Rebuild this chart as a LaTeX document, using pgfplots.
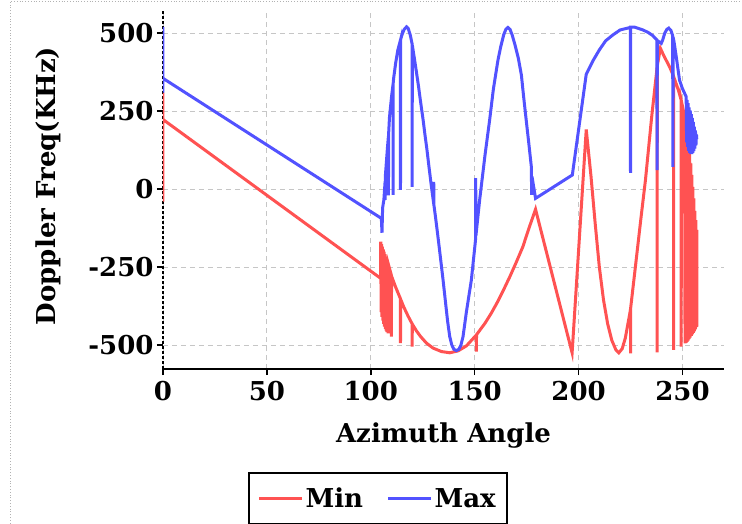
\documentclass[border=0pt]{standalone}
\usepackage{fontspec}
\setmainfont{DejaVu Serif}
\usepackage{pgfplots}
\pgfplotsset{compat=1.18}
\definecolor{cmin}{RGB}{255,82,82}
\definecolor{cmax}{RGB}{82,82,255}
\newcommand{\bigf}{\fontsize{26}{31}\selectfont\bfseries}
\begin{document}
\begin{tikzpicture}
\begin{axis}[
  scale only axis, width=561pt, height=359pt,
  xmin=0, xmax=270, ymin=-577, ymax=574,
  axis x line=bottom, axis y line=left, axis line style={-},
  x axis line style={line width=1.8pt, black},
  y axis line style={line width=1.5pt, black, dash pattern=on 3pt off 2pt},
  xtick={0,50,100,150,200,250}, xticklabels={0,50,100,150,200,250},
  ytick={-500,-250,0,250,500}, yticklabels={-500,-250,0,250,500},
  tick style={black, line width=1.5pt}, major tick length=6pt, tick align=outside,
  grid=major, grid style={gray!45, line width=0.9pt, dash pattern=on 5pt off 4pt},
  tick label style={font=\bigf},
  xticklabel style={yshift=-3pt},
  xlabel={Azimuth Angle}, ylabel={Doppler Freq(KHz)},
  label style={font=\bigf},
  xlabel style={at={(rel axis cs:0.5,0)}, anchor=base, yshift=-73pt},
  ylabel style={at={(rel axis cs:-0.205,0.51)}, anchor=center},
  legend style={at={(0.383,0)}, anchor=north, yshift=-103pt, draw=black, line width=2pt,
    inner xsep=9pt, inner ysep=13pt,
    font=\bigf, legend columns=2, /tikz/every even column/.append style={column sep=22pt}},
  legend image code/.code={\draw[#1, line width=2.5pt] (0pt,0pt) -- (43pt,0pt);},
]
\addplot[cmin, line width=3pt] coordinates {
(0,-40) (0,309) (0,223) (104.7,-286) (104.8,-169)
(105.0,-395) (105.2,-177) (105.4,-410) (105.6,-185) (105.8,-422) (106.0,-193) (106.2,-432)
(106.4,-201) (106.6,-441) (106.8,-209) (107.0,-448) (107.2,-217) (107.4,-454) (107.6,-224)
(107.8,-459) (108.0,-232) (108.3,-463) (108.5,-242) (109.9,-276) (109.9,-473) (110,-279)
(110.7,-292) (112,-315) (114.3,-352) (114.3,-494) (114.4,-354) (116,-380) (118,-408)
(119.9,-432) (119.9,-505) (120,-433) (122,-455) (124,-473) (126.8,-494) (130,-510)
(134,-521) (138,-525) (142,-519) (146,-503) (150.8,-468) (150.8,-521) (150.9,-467)
(155,-430) (158,-398) (161,-362) (164,-322) (167,-280) (170,-235) (173.2,-185) (176,-128) (179.3,-65)
(196.9,-525) (203.7,191) (206,40) (208,-110) (210,-250) (212,-355) (214,-432) (216,-485)
(218,-516) (219.4,-525) (221,-512) (222.5,-478) (224.5,-405) (225,-385) (225,-527)
(225.1,-380) (227,-270) (230,-95) (232.2,29) (235.2,232) (237.8,390) (237.8,-524)
(237.9,396) (239.4,451) (241,428) (243.8,392) (245.7,362) (245.7,-516) (245.8,360)
(248,318) (249.4,285) (249.4,-505) (249.5,282) (250.5,250) (251,240)
(251.25,-495) (251.5,225) (251.75,-493) (252.0,205) (252.25,-490) (252.5,189) (252.75,-486)
(253.0,155) (253.25,-481) (253.5,120) (253.75,-476) (254.0,82) (254.25,-471) (254.5,45)
(254.75,-466) (255.0,7) (255.25,-461) (255.5,-30) (255.75,-456) (256.0,-70) (256.25,-450)
(256.5,-100) (256.75,-443) (257.0,-131) (257.0,-441)
};
\addlegendentry{Min}
\addplot[cmax, line width=3pt] coordinates {
(0,309) (0,520) (0,355)
(105.1,-94) (105.4,-140) (105.7,-60) (106.3,-35)
(106.9,25) (106.9,-35) (107.0,40) (108,130) (108.5,170) (108.5,-20) (108.6,178) (109,230)
(110,296) (110.7,335) (110.7,-19) (110.8,340) (111,355) (112,405) (113,445) (114.3,478)
(114.3,-3) (114.4,480) (115,494) (116,511) (117.2,520) (118,515) (119,494) (119.9,465)
(119.9,7) (120,461) (121,418) (122,374) (123,328) (124,278) (125.2,221) (126,178) (127,128)
(128,72) (129.2,7) (130.3,-48) (130.3,23) (130.4,-52) (131,-82) (132,-135) (133,-190)
(134.8,-292) (136,-365) (137,-425) (138,-473) (139,-500) (140,-514) (141.2,-518)
(142.4,-514) (143.4,-500) (144.4,-473) (146,-395) (148.4,-292) (150.4,-164) (150.5,35)
(150.6,-150) (152.4,-35) (155,110) (157.2,221) (159,320) (161.2,413) (162.5,455) (164,495)
(165,512) (166,518) (167,512) (168,495) (169.5,460) (171,420) (172.5,365) (173.5,300)
(174.8,221) (176,150) (177.3,70)
(177.4,-19) (177.6,40) (179.3,-30) (197,45) (203.7,368) (207,412) (210,446) (213,475)
(216.5,494) (220,510) (224.9,518) (225,52) (225.1,519) (227,519) (231,510) (233.5,502)
(235.7,492) (237.7,478) (237.8,61) (237.9,476) (239.8,467) (240.5,478) (241.5,500)
(242.5,512) (243.4,516) (244.5,508) (245.3,492) (245.4,71) (245.5,488) (246,470)
(247,425) (248.6,349) (250,322) (251.5,300)
(251.8,296) (252.0,150) (252.25,286) (252.5,135) (252.75,275) (253.0,122) (253.25,262)
(253.5,116) (253.75,252) (254.0,112) (254.25,240) (254.5,112) (254.75,228) (255.0,116)
(255.25,215) (255.5,122) (255.75,200) (256.0,130) (256.25,188) (256.5,140) (256.75,175)
(256.9,160)
};
\addlegendentry{Max}
\coordinate (ll) at (rel axis cs:0,0);
\end{axis}
\draw[gray!60, dotted, line width=0.8pt] ([shift={(-153pt,-160pt)}]ll) -- ([shift={(-153pt,368pt)}]ll) -- ([shift={(579pt,368pt)}]ll);
\pgfresetboundingbox
\path[use as bounding box] ([shift={(-163pt,-154pt)}]ll) rectangle ([shift={(579pt,369pt)}]ll);
\end{tikzpicture}
\end{document}
